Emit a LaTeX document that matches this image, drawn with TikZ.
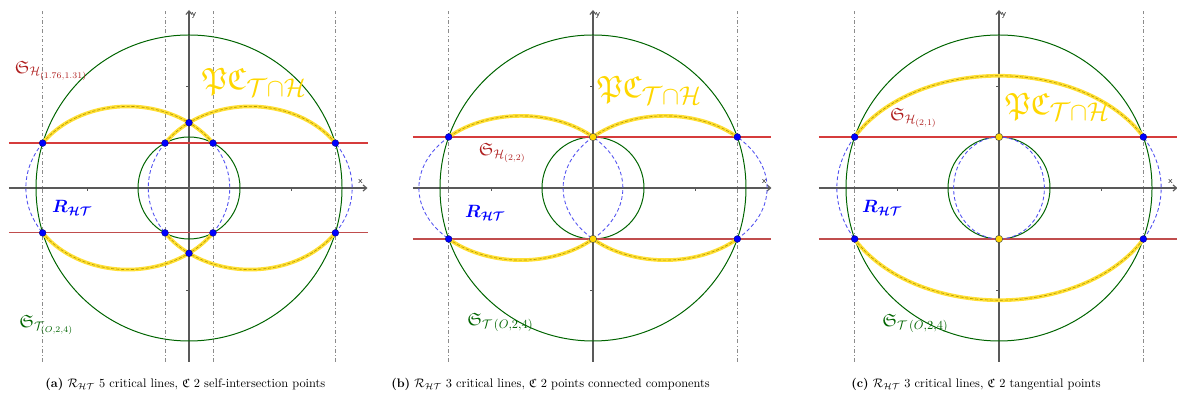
\documentclass[tikz,border=0pt]{standalone}
\usepackage{amsmath,amssymb}
\usepackage{bm}
\definecolor{TorusGreen}{RGB}{0,100,0}
\definecolor{HypRed}{RGB}{214,60,60}
\definecolor{HypDark}{RGB}{175,30,30}
\definecolor{CurveBlue}{RGB}{80,80,240}
\definecolor{PCGold}{RGB}{255,215,0}
\usepackage{tikz}
\usetikzlibrary{arrows.meta}

% one ellipse of the curve, cut by the strip |y|<h
\newcommand{\splitellipse}[4]{%
  \pgfmathsetmacro{\cutang}{asin(#4/#3)}%
  \draw[inner] (#1,0) ++(-\cutang:#2 and #3) arc[start angle=-\cutang,end angle=\cutang,x radius=#2,y radius=#3];
  \draw[inner] (#1,0) ++(180-\cutang:#2 and #3) arc[start angle=180-\cutang,end angle=180+\cutang,x radius=#2,y radius=#3];
  \foreach \s in {0,180} {
    \draw[band] (#1,0) ++(\s+\cutang:#2 and #3) arc[start angle=\s+\cutang,end angle=\s+180-\cutang,x radius=#2,y radius=#3];
    \draw[bandmid] (#1,0) ++(\s+\cutang:#2 and #3) arc[start angle=\s+\cutang,end angle=\s+180-\cutang,x radius=#2,y radius=#3];
  }
}

% axes and the two circles of the torus section
\newcommand{\panelframe}[2]{%
  \draw[axis] (-3.53,0) -- (3.5,0);
  \draw[axis] (0,-3.41) -- (0,3.49);
  \foreach \t in {-2,2} {
    \draw[tick] (\t,0) -- (\t,-0.05);
    \draw[tick] (0,\t) -- (-0.05,\t);
  }
  \node[axlab] (x-#1) at (3.36,0.13) {x};
  \node[axlab] (y-#1) at (0.1,3.38) {y};
  \draw[torus] (0,0) circle[radius=3];
  \draw[torus] (0,0) circle[radius=1];
  \draw[hline] (-3.53,#2) -- (3.5,#2);
  \draw[hline,draw=HypRed!75!gray] (-3.53,-#2) -- (3.5,-#2);
}

\begin{document}
\begin{tikzpicture}[x=1.45cm,y=1.45cm,
  axis/.style={draw=black!65,line width=0.9pt,-{Straight Barb[length=3pt,width=5pt]}},
  tick/.style={draw=black!65,line width=0.6pt},
  axlab/.style={font=\sffamily\scriptsize,inner sep=1pt},
  crit/.style={draw=black!45,line width=0.6pt,dash dot},
  hline/.style={draw=HypRed,line width=1pt},
  torus/.style={draw=TorusGreen,line width=0.8pt},
  inner/.style={draw=CurveBlue,line width=0.7pt,dash pattern=on 3pt off 2pt},
  band/.style={draw=PCGold!80,line width=3pt},
  bandmid/.style={draw=PCGold!70!black,line width=0.5pt,dash pattern=on 2.5pt off 1.5pt},
  bluept/.style={circle,fill=blue,draw=blue!50!black,line width=0.3pt,inner sep=0pt,minimum size=5.5pt},
  goldpt/.style={circle,fill=PCGold,draw=black!70,line width=0.4pt,inner sep=0pt,minimum size=6pt},
  hlab/.style={text=HypDark,anchor=west,inner sep=0pt,font=\Large},
  tlab/.style={text=TorusGreen,anchor=west,inner sep=0pt,font=\Large},
  pclab/.style={text=PCGold,anchor=west,inner sep=0pt,font=\Huge},
  rlab/.style={text=blue,anchor=west,inner sep=0pt,font=\Large},
  caption/.style={anchor=west,inner sep=0pt,font=\normalsize}]
\useasboundingbox (0,-4.078) rectangle (23.078,3.686);

% (a) five critical lines
\begin{scope}[shift={(3.706,0)}]
  \foreach \v in {-2.87,-0.47,0.47,2.87}
    \draw[crit] (\v,-3.41) -- (\v,3.49);
  \panelframe{a}{0.88}
  \splitellipse{-1.2}{2}{1.6}{0.88}
  \splitellipse{1.2}{2}{1.6}{0.88}
  \foreach \px/\py [count=\i] in {-2.87/0.88,-0.47/0.88,0.47/0.88,2.87/0.88,
      -2.87/-0.88,-0.47/-0.88,0.47/-0.88,2.87/-0.88,0/1.28,0/-1.28}
    \node[bluept] (pa\i) at (\px,\py) {};
  \node[hlab] (sh-a) at (-3.42,2.3) {$\mathfrak{S}_{\mathcal{H}_{(1.76,1.31)}}$};
  \node[pclab] (pc-a) at (0.25,2.08) {$\mathfrak{P}\mathfrak{C}_{\mathcal{T}\cap\mathcal{H}}$};
  \node[rlab] (r-a) at (-2.69,-0.39) {$\bm{R_{\mathcal{H}\mathcal{T}}}$};
  \node[tlab] (st-a) at (-3.33,-2.69) {$\mathfrak{S}_{\mathcal{T}_{(O,2,4)}}$};
  \node[caption] (cap-a) at (-2.82,-3.86) {\textbf{(a)} $\mathcal{R}_{\mathcal{H}\mathcal{T}}$ 5 critical lines, $\mathfrak{C}$ 2 self-intersection points};
\end{scope}

% (b) three critical lines
\begin{scope}[shift={(11.627,0)}]
  \foreach \v in {-2.83,2.83}
    \draw[crit] (\v,-3.41) -- (\v,3.49);
  \panelframe{b}{1}
  \splitellipse{-1.414}{2}{1.414}{1}
  \splitellipse{1.414}{2}{1.414}{1}
  \foreach \px/\py [count=\i] in {-2.83/1,2.83/1,-2.83/-1,2.83/-1}
    \node[bluept] (pb\i) at (\px,\py) {};
  \node[goldpt] (qb1) at (0,1) {};
  \node[goldpt] (qb2) at (0,-1) {};
  \node[hlab] (sh-b) at (-2.24,0.69) {$\mathfrak{S}_{\mathcal{H}_{(2,2)}}$};
  \node[pclab] (pc-b) at (0.08,1.92) {$\mathfrak{P}\mathfrak{C}_{\mathcal{T}\cap\mathcal{H}}$};
  \node[rlab] (r-b) at (-2.51,-0.49) {$\bm{R_{\mathcal{H}\mathcal{T}}}$};
  \node[tlab] (st-b) at (-2.47,-2.63) {$\mathfrak{S}_{\mathcal{T}\,(O,2,4)}$};
  \node[caption] (cap-b) at (-3.96,-3.86) {\textbf{(b)} $\mathcal{R}_{\mathcal{H}\mathcal{T}}$ 3 critical lines, $\mathfrak{C}$ 2 points connected components};
\end{scope}

% (c) tangential points
\begin{scope}[shift={(19.588,0)}]
  \foreach \v in {-2.83,2.83}
    \draw[crit] (\v,-3.41) -- (\v,3.49);
  \panelframe{c}{1}
  \draw[inner] (0,0) ellipse[x radius=0.89,y radius=1];
  \splitellipse{0}{3.18}{2.2}{1}
  \foreach \px/\py [count=\i] in {-2.83/1,2.83/1,-2.83/-1,2.83/-1}
    \node[bluept] (pc\i) at (\px,\py) {};
  \node[goldpt] (qc1) at (0,1) {};
  \node[goldpt] (qc2) at (0,-1) {};
  \node[hlab] (sh-c) at (-2.14,1.37) {$\mathfrak{S}_{\mathcal{H}_{(2,1)}}$};
  \node[pclab] (pc-c) at (0.12,1.59) {$\mathfrak{P}\mathfrak{C}_{\mathcal{T}\cap\mathcal{H}}$};
  \node[rlab] (r-c) at (-2.69,-0.39) {$\bm{R_{\mathcal{H}\mathcal{T}}}$};
  \node[tlab] (st-c) at (-2.29,-2.65) {$\mathfrak{S}_{\mathcal{T}\,(O,2,4)}$};
  \node[caption] (cap-c) at (-2.9,-3.86) {\textbf{(c)} $\mathcal{R}_{\mathcal{H}\mathcal{T}}$ 3 critical lines, $\mathfrak{C}$ 2 tangential points};
\end{scope}
\end{tikzpicture}
\end{document}
